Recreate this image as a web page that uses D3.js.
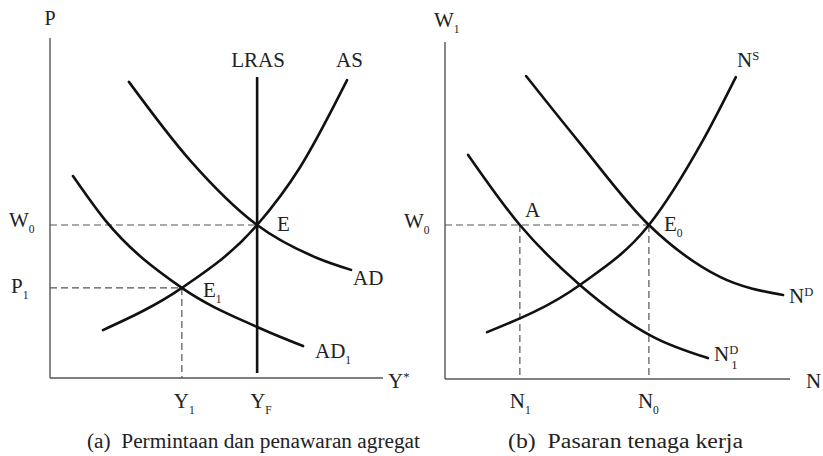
<!DOCTYPE html>
<html>
<head>
<meta charset="utf-8">
<script src="https://cdn.jsdelivr.net/npm/d3@7"></script>
<style>
	body { margin: 0; background: #fff; }
	svg text { fill: #222; white-space: pre; }
</style>
</head>
<body>
<svg id="chart" width="823" height="456" font-family="'Liberation Serif', 'Times New Roman', 'DejaVu Serif', serif"></svg>
<script>
// panel (a): aggregate demand and supply, values on a 0-100 axis scale
var asCurve = [[15.9, 14.1], [39.6, 26.5], [62.2, 45], [75.1, 62], [89.2, 87.6]];
var adCurve = [[23.7, 87.1], [42, 64.1], [62.2, 45], [80.2, 35.3], [90.4, 31.8]];
var ad1Curve = [[6.9, 59.4], [16.5, 46.5], [39.6, 26.5], [62.2, 15], [76, 9.4]];
var lrasX = 62.2, lrasRange = [1.5, 88.5];
var eqA = { E: [62.2, 45], E1: [39.6, 26.5] };

// panel (b): labour market
var nsCurve = [[12.2, 13.9], [39.1, 27.9], [59.1, 45.7], [74.8, 70.9], [84.3, 89.6]];
var ndCurve = [[23.5, 89.9], [39.1, 70], [59.1, 45.7], [79.7, 30.3], [98, 24.9]];
var nd1Curve = [[6.7, 66.5], [21.7, 45.7], [39.1, 27.9], [60.3, 12.5], [76.2, 6.2]];
var eqB = { E0: [59.1, 45.7], A: [21.7, 45.7] };

var captions = ["(a)  Permintaan dan penawaran agregat", "(b)  Pasaran tenaga kerja"];

var svg = d3.select("#chart");

var panels = [
	{ x: d3.scaleLinear().domain([0, 100]).range([50, 383]), y: d3.scaleLinear().domain([0, 100]).range([378, 38]) },
	{ x: d3.scaleLinear().domain([0, 100]).range([445, 790]), y: d3.scaleLinear().domain([0, 100]).range([379, 42]) }
];

function drawAxes(p) {
	svg.append("line")
		.attr("x1", p.x(0)).attr("y1", p.y(100))
		.attr("x2", p.x(0)).attr("y2", p.y(0))
		.attr("stroke", "#555").attr("stroke-width", 1.4);
	svg.append("line")
		.attr("x1", p.x(0)).attr("y1", p.y(0))
		.attr("x2", p.x(100)).attr("y2", p.y(0))
		.attr("stroke", "#555").attr("stroke-width", 1.4);
}

function drawCurve(p, pts) {
	var line = d3.line()
		.x(function(d) { return p.x(d[0]); })
		.y(function(d) { return p.y(d[1]); })
		.curve(d3.curveMonotoneX);
	svg.append("path")
		.attr("d", line(pts))
		.attr("fill", "none")
		.attr("stroke", "#111")
		.attr("stroke-width", 2.6)
		.attr("stroke-linecap", "round");
}

function dashed(p, x1, y1, x2, y2) {
	svg.append("line")
		.attr("x1", p.x(x1)).attr("y1", p.y(y1))
		.attr("x2", p.x(x2)).attr("y2", p.y(y2))
		.attr("stroke", "#555")
		.attr("stroke-width", 1.2)
		.attr("stroke-dasharray", "7,4");
}

// label with optional subscript / superscript
function label(x, y, main, sub, sup, size, anchor) {
	size = size || 21;
	var t = svg.append("text")
		.attr("x", x).attr("y", y)
		.attr("font-size", size)
		.attr("text-anchor", anchor || "start");
	t.append("tspan").text(main);
	if (sup != null) {
		t.append("tspan").attr("font-size", size * 0.6).attr("dy", -size * 0.35).text(sup);
		if (sub != null) {
			// stack the subscript under the superscript
			t.append("tspan").attr("font-size", size * 0.6).attr("dx", -size * 0.33).attr("dy", size * 0.75).text(sub);
		}
	}
	else if (sub != null) {
		t.append("tspan").attr("font-size", size * 0.55).attr("dy", size * 0.3).text(sub);
	}
}

// ---- panel (a)
var pa = panels[0];
drawAxes(pa);
dashed(pa, 0, eqA.E[1], eqA.E[0], eqA.E[1]);
dashed(pa, 0, eqA.E1[1], eqA.E1[0], eqA.E1[1]);
dashed(pa, eqA.E1[0], eqA.E1[1], eqA.E1[0], 0);
svg.append("line")
	.attr("x1", pa.x(lrasX)).attr("y1", pa.y(lrasRange[1]))
	.attr("x2", pa.x(lrasX)).attr("y2", pa.y(lrasRange[0]))
	.attr("stroke", "#111").attr("stroke-width", 2.6);
drawCurve(pa, asCurve);
drawCurve(pa, adCurve);
drawCurve(pa, ad1Curve);

label(50, 25, "P", null, null, 20, "middle");
label(258, 67, "LRAS", null, null, 21, "middle");
label(336, 67, "AS");
label(277, 231, "E");
label(203, 297, "E", "1");
label(353, 285, "AD");
label(315, 358, "AD", "1");
label(388, 388, "Y", null, "*");
label(9, 227, "W", "0");
label(11, 293, "P", "1");
label(pa.x(eqA.E1[0]) - 8, 408, "Y", "1");
label(pa.x(lrasX) - 7, 408, "Y", "F");

// ---- panel (b)
var pb = panels[1];
drawAxes(pb);
dashed(pb, 0, eqB.E0[1], eqB.E0[0], eqB.E0[1]);
dashed(pb, eqB.A[0], eqB.A[1], eqB.A[0], 0);
dashed(pb, eqB.E0[0], eqB.E0[1], eqB.E0[0], 0);
drawCurve(pb, nsCurve);
drawCurve(pb, ndCurve);
drawCurve(pb, nd1Curve);

label(434, 27, "W", "1");
label(737, 67, "N", null, "S");
label(525, 217, "A");
label(664, 231, "E", "0");
label(404, 228, "W", "0");
label(789, 303, "N", null, "D");
label(714, 361, "N", "1", "D");
label(806, 388, "N");
label(pb.x(eqB.A[0]) - 10, 408, "N", "1");
label(pb.x(eqB.E0[0]) - 11, 408, "N", "0");

// captions
svg.append("text").attr("x", 87).attr("y", 448).attr("font-size", 20)
	.attr("xml:space", "preserve").attr("textLength", 333).attr("lengthAdjust", "spacingAndGlyphs")
	.text(captions[0]);
svg.append("text").attr("x", 508).attr("y", 448).attr("font-size", 20)
	.attr("xml:space", "preserve").attr("textLength", 235).attr("lengthAdjust", "spacingAndGlyphs")
	.text(captions[1]);
</script>
</body>
</html>
